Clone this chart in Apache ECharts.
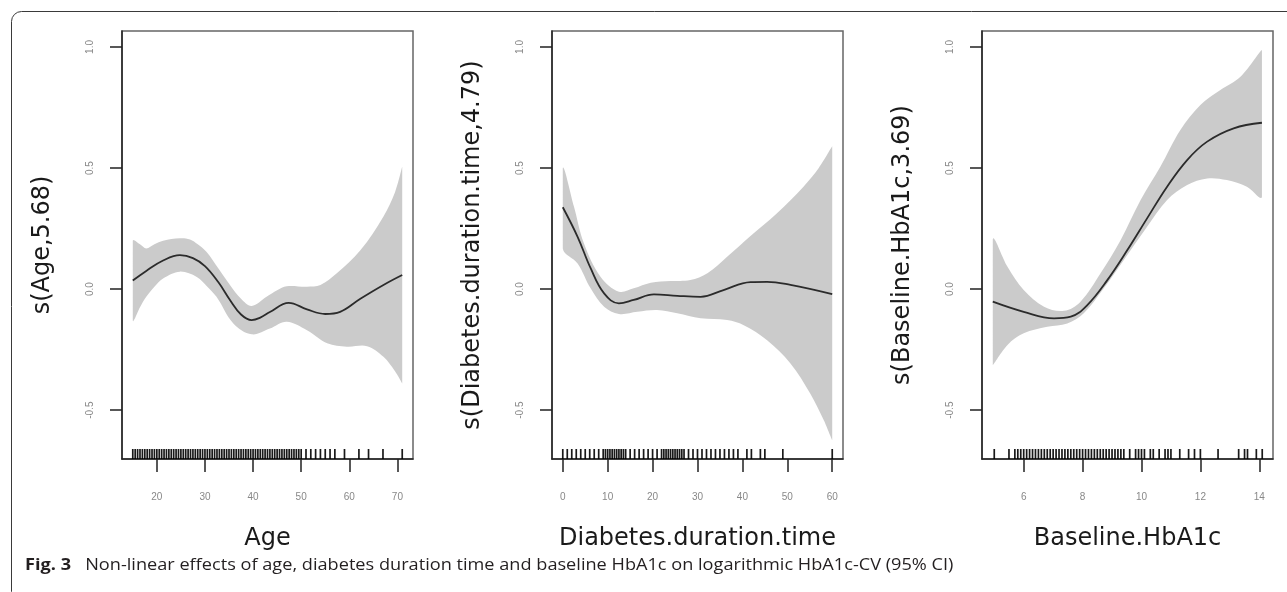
<!DOCTYPE html>
<html>
<head>
<meta charset="utf-8">
<script src="https://cdn.jsdelivr.net/npm/echarts@6.0.0/dist/echarts.min.js"></script>
<style>
  html, body { margin: 0; padding: 0; background: #fff; }
  #chart { width: 1287px; height: 592px; }
</style>
</head>
<body>
<div id="chart"></div>
<script>
// ---- data ----
// panel 1: Age
var ageFit = [[15,0.035],[17.8,0.075],[21.3,0.118],[24.8,0.14],[27.5,0.128],[30,0.095],[32.8,0.028],[35.2,-0.045],[37.5,-0.105],[39.7,-0.128],[41.5,-0.118],[43.5,-0.095],[47.4,-0.057],[51.2,-0.084],[55,-0.103],[58.1,-0.094],[62.3,-0.04],[67.1,0.017],[71,0.058]];
var ageUpper = [[15,0.2],[16.5,0.185],[17.8,0.168],[19.5,0.185],[21.3,0.2],[24.8,0.21],[26.9,0.205],[28.5,0.185],[30.3,0.154],[32.8,0.085],[35.2,0.017],[37.5,-0.04],[39.7,-0.07],[42.8,-0.032],[45,-0.005],[47,0.012],[51.2,0.01],[54,0.017],[57.4,0.065],[62.3,0.16],[67.1,0.3],[69.5,0.4],[71,0.505]];
var ageLower = [[15,-0.13],[16.5,-0.075],[17.8,-0.032],[19.5,0.01],[21.3,0.044],[24.8,0.072],[28.3,0.05],[30.5,0.01],[32.4,-0.032],[35.9,-0.142],[39.7,-0.187],[43.5,-0.163],[47,-0.135],[51.2,-0.17],[55.4,-0.224],[59.5,-0.238],[63.7,-0.236],[67.1,-0.28],[69.5,-0.34],[71,-0.39]];
var ageRug = [15,15.5,16,16.5,17,17.5,18,18.5,19,19.5,20,20.5,21,21.5,22,22.5,23,23.5,24,24.5,25,25.5,26,26.5,27,27.5,28,28.5,29,29.5,30,30.5,31,31.5,32,32.5,33,33.5,34,34.5,35,35.5,36,36.5,37,37.5,38,38.5,39,39.5,40,40.5,41,41.5,42,42.5,43,43.5,44,44.5,45,45.5,46,46.5,47,47.5,48,48.5,49,49.5,50,51,52,53,54,55,56,57,59,62,64,67,71];
var ageTicks = [20,30,40,50,60,70];

// panel 2: Diabetes duration time
var durFit = [[0,0.338],[3.3,0.216],[6.2,0.086],[9.2,-0.018],[12.5,-0.059],[15.8,-0.045],[20.3,-0.022],[25.5,-0.028],[30.7,-0.032],[35.8,-0.004],[41.8,0.029],[45.5,0.03],[50.7,0.017],[60,-0.021]];
var durUpper = [[0,0.5],[2.5,0.34],[4.7,0.189],[8.4,0.051],[12.5,-0.011],[15.8,0.003],[19.6,0.026],[24,0.033],[28.4,0.037],[32.2,0.065],[36.6,0.133],[41.8,0.219],[47.7,0.313],[53.6,0.423],[57,0.5],[60,0.59]];
var durLower = [[0,0.168],[3.3,0.106],[6.2,0.003],[9.2,-0.073],[12.5,-0.103],[16.6,-0.094],[21,-0.087],[25.5,-0.1],[30.7,-0.121],[36.6,-0.128],[40.3,-0.149],[45.5,-0.211],[50.7,-0.307],[55.1,-0.431],[58.1,-0.541],[60,-0.624]];
var durRug = [0,1,2,3,4,5,6,7,8,9,9.5,10,10.5,11,11.5,12,12.5,13,13.5,14,15,16,17,18,19,20,21,22,22.5,23,23.5,24,24.5,25,25.5,26,26.5,27,28,29,30,31,32,33,34,35,36,37,38,39,41,42,44,45,49,60];
var durTicks = [0,10,20,30,40,50,60];

// panel 3: Baseline HbA1c
var hbaFit = [[4.95,-0.052],[6,-0.094],[7.03,-0.121],[7.6,-0.114],[8.16,-0.066],[8.84,0.037],[9.52,0.161],[10.19,0.292],[10.87,0.423],[11.55,0.533],[12.23,0.609],[13.13,0.664],[14.09,0.687]];
var hbaUpper = [[4.95,0.205],[5.45,0.092],[6,-0.004],[6.69,-0.073],[7.37,-0.09],[7.93,-0.052],[8.61,0.065],[9.29,0.202],[9.97,0.368],[10.64,0.505],[11.32,0.657],[12,0.76],[12.68,0.822],[13.36,0.877],[14.09,0.988]];
var hbaLower = [[4.95,-0.314],[5.45,-0.231],[6,-0.183],[6.8,-0.156],[7.48,-0.142],[8.04,-0.1],[8.72,0.003],[9.4,0.12],[10.19,0.257],[10.87,0.368],[11.55,0.43],[12.23,0.457],[12.9,0.45],[13.58,0.423],[14.09,0.381]];
var hbaRug = [5.0,5.5,5.7,5.8,5.9,6.0,6.1,6.2,6.3,6.4,6.5,6.6,6.7,6.8,6.9,7.0,7.1,7.2,7.3,7.4,7.5,7.6,7.7,7.8,7.9,8.0,8.1,8.2,8.3,8.4,8.5,8.6,8.7,8.8,8.9,9.0,9.1,9.2,9.3,9.4,9.6,9.8,9.9,10.0,10.1,10.3,10.4,10.6,10.8,10.9,11.0,11.3,11.6,11.8,12.0,12.6,13.3,13.5,13.6,13.9,14.1];
var hbaTicks = [6,8,10,12,14];

var yTicks = [-0.5, 0, 0.5, 1.0];
var yMin = -0.702, yMax = 1.066;

var panels = [
  {xName: 'Age', yName: 's(Age,5.68)', fit: ageFit, upper: ageUpper, lower: ageLower, rug: ageRug, ticks: ageTicks, xMin: 12.76, xMax: 73.24, left: 122},
  {xName: 'Diabetes.duration.time', yName: 's(Diabetes.duration.time,4.79)', fit: durFit, upper: durUpper, lower: durLower, rug: durRug, ticks: durTicks, xMin: -2.4, xMax: 62.4, left: 552},
  {xName: 'Baseline.HbA1c', yName: 's(Baseline.HbA1c,3.69)', fit: hbaFit, upper: hbaUpper, lower: hbaLower, rug: hbaRug, ticks: hbaTicks, xMin: 4.584, xMax: 14.466, left: 982}
];

var tickFont = {fontFamily: 'Liberation Sans', fontSize: 10, color: '#888'};
var titleFont = {fontFamily: 'DejaVu Sans', fontSize: 24, color: '#1a1a1a'};

var option = {
  animation: false,
  backgroundColor: '#fff',
  grid: [], xAxis: [], yAxis: [], series: [],
  graphic: [
    {type: 'rect', shape: {x: 11.5, y: 11.5, width: 1300, height: 590, r: 10},
      style: {fill: 'none', stroke: '#3a3a3a', lineWidth: 1}, silent: true},
    // caption, widened a little like the source figure
    {type: 'text', x: 25, y: 557, scaleX: 1.1, originX: 0, originY: 0,
      style: {
        text: '{b|Fig. 3}   Non-linear effects of age, diabetes duration time and baseline HbA1c on logarithmic HbA1c-CV (95% CI)',
        fontFamily: 'Open Sans', fontSize: 16.5, fill: '#231f20', verticalAlign: 'top',
        rich: {b: {fontFamily: 'Open Sans', fontWeight: 'bold', fontSize: 16.5, fill: '#231f20'}}
      }}
  ]
};

panels.forEach(function (p, i) {
  option.grid.push({left: p.left, top: 31, width: 291, height: 428, show: true,
    borderColor: '#666', borderWidth: 1.5, backgroundColor: 'transparent'});

  option.xAxis.push({
    type: 'value', gridIndex: i, min: p.xMin, max: p.xMax,
    name: p.xName, nameLocation: 'middle', nameGap: 68, nameTextStyle: titleFont,
    axisLine: {onZero: false, lineStyle: {color: '#222', width: 1.5}},
    axisTick: {show: true, length: 13, customValues: p.ticks, lineStyle: {color: '#222', width: 1.5}},
    axisLabel: {customValues: p.ticks, margin: 33, fontFamily: tickFont.fontFamily, fontSize: tickFont.fontSize, color: tickFont.color},
    splitLine: {show: false}
  });

  option.yAxis.push({
    type: 'value', gridIndex: i, min: yMin, max: yMax,
    name: p.yName, nameLocation: 'middle', nameRotate: 90, nameGap: 67, nameTextStyle: titleFont,
    axisLine: {show: true, onZero: false, lineStyle: {color: '#222', width: 1.5}},
    axisTick: {show: true, length: 12, customValues: yTicks, lineStyle: {color: '#222', width: 1.5}},
    axisLabel: {customValues: yTicks, rotate: 90, margin: 27, fontFamily: tickFont.fontFamily, fontSize: tickFont.fontSize, color: tickFont.color,
      formatter: function (v) { return v.toFixed(1); }},
    splitLine: {show: false}
  });

  // confidence band as one smooth polygon
  option.series.push({
    type: 'custom', xAxisIndex: i, yAxisIndex: i, data: [0], silent: true, z: 1,
    renderItem: function (params, api) {
      var pts = [];
      p.upper.forEach(function (d) { pts.push(api.coord(d)); });
      p.lower.slice().reverse().forEach(function (d) { pts.push(api.coord(d)); });
      return {type: 'polygon', shape: {points: pts, smooth: 0.35, smoothConstraint: [pts[0], pts[0]]},
        style: {fill: '#cbcbcb', stroke: null}};
    }
  });

  option.series.push({
    type: 'line', xAxisIndex: i, yAxisIndex: i, data: p.fit, smooth: 0.4,
    showSymbol: false, symbol: 'none', z: 3,
    lineStyle: {color: '#2b2b2b', width: 1.8}
  });

  option.series.push({
    type: 'scatter', xAxisIndex: i, yAxisIndex: i, clip: false, z: 4,
    data: p.rug.map(function (v) { return [v, yMin]; }),
    symbol: 'rect', symbolSize: [1.7, 10], symbolOffset: [0, -5],
    itemStyle: {color: '#000', opacity: 0.9}
  });
});

var chart = echarts.init(document.getElementById('chart'));
chart.setOption(option);
</script>
</body>
</html>
